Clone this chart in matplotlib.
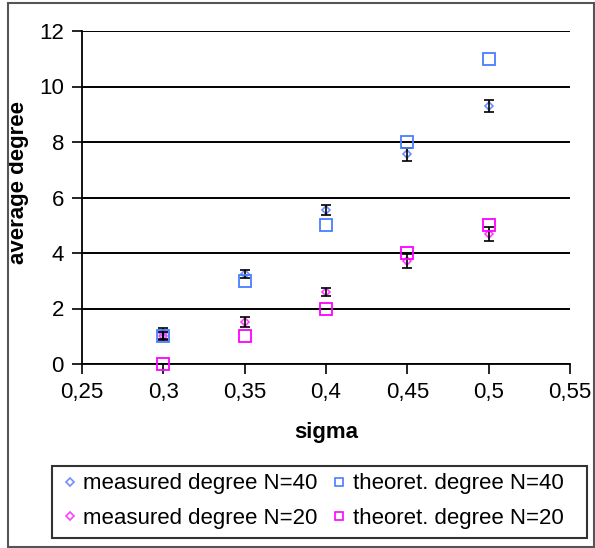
import matplotlib
matplotlib.use("Agg")
import matplotlib.pyplot as plt
from matplotlib.patches import Rectangle
from matplotlib.lines import Line2D
from matplotlib.ticker import FuncFormatter

plt.rcParams['font.family'] = ['Liberation Sans', 'DejaVu Sans']

# data
sigma = [0.3, 0.35, 0.4, 0.45, 0.5]
meas40 = [1.1, 3.25, 5.55, 7.55, 9.3]
err40 = [0.2, 0.15, 0.18, 0.22, 0.22]
theo40 = [1, 3, 5, 8, 11]
meas20 = [1.0, 1.5, 2.6, 3.7, 4.7]
err20 = [0.15, 0.18, 0.15, 0.25, 0.25]
theo20 = [0, 1, 2, 4, 5]

BLUE = "#4a7dff"
BLUE_L = "#6f8fff"
MAG = "#ff00ff"
MAG_L = "#ff40ff"
FS = 16

W, H = 595, 548
fig = plt.figure(figsize=(W/100, H/100), dpi=100)
ax = fig.add_axes([82/W, 1-364/H, (570-82)/W, (364-31)/H])

# error bars first, then markers
ax.errorbar(sigma, meas40, yerr=err40, fmt='none', ecolor='black', elinewidth=1.2,
            capsize=3.5, capthick=1.2, zorder=4)
ax.errorbar(sigma, meas20, yerr=err20, fmt='none', ecolor='black', elinewidth=1.2,
            capsize=3.5, capthick=1.2, zorder=4)
ax.plot(sigma, meas40, ls='', marker='D', ms=4.5, mfc='none', mec=BLUE_L, mew=1.2, zorder=3)
ax.plot(sigma, meas20, ls='', marker='D', ms=4.5, mfc='none', mec=MAG_L, mew=1.2, zorder=3)
ax.plot(sigma, theo40, ls='', marker='s', ms=8.5, mfc='none', mec=BLUE, mew=1.3, zorder=5)
ax.plot(sigma, theo20, ls='', marker='s', ms=8.5, mfc='none', mec=MAG, mew=1.3, zorder=5)

ax.set_xlim(0.25, 0.55)
ax.set_ylim(0, 12)
ax.set_xticks([0.25, 0.3, 0.35, 0.4, 0.45, 0.5, 0.55])
ax.set_yticks(range(0, 13, 2))
ax.xaxis.set_major_formatter(FuncFormatter(lambda v, p: f"{v:g}".replace('.', ',')))
ax.grid(axis='y', color='black', lw=1.4)
ax.set_axisbelow(True)
for s in ('top', 'right'):
    ax.spines[s].set_visible(False)
for s in ('left', 'bottom'):
    ax.spines[s].set_linewidth(1.3)
ax.tick_params(direction='out', length=7, width=1.2, labelsize=FS)
ax.tick_params(axis='y', pad=6)
ax.tick_params(axis='x', pad=6)
for ln in ax.lines:
    ln.set_clip_on(False)

ax.set_xlabel("sigma", fontsize=FS, fontweight='bold', labelpad=14)
ax.set_ylabel("average degree", fontsize=FS, fontweight='bold')
ax.yaxis.set_label_coords((29-82)/488, (364-183)/333)

# legend uses smaller markers, as in the original
handles = [
    Line2D([], [], ls='', marker='D', ms=4, mfc='none', mec=BLUE_L, mew=1.2, label='measured degree N=40'),
    Line2D([], [], ls='', marker='D', ms=4, mfc='none', mec=MAG_L, mew=1.2, label='measured degree N=20'),
    Line2D([], [], ls='', marker='s', ms=6, mfc='none', mec=BLUE, mew=1.2, label='theoret. degree N=40'),
    Line2D([], [], ls='', marker='s', ms=6, mfc='none', mec=MAG, mew=1.2, label='theoret. degree N=20'),
]
leg = fig.legend(handles=handles, ncol=2, fontsize=FS, frameon=False,
                 loc='lower left', bbox_to_anchor=(54/W, 10/H),
                 borderaxespad=0, handlelength=0.6, handletextpad=0.3,
                 columnspacing=0.7, labelspacing=0.62, borderpad=0.4)
# legend box drawn separately (it is wider than its contents)
fig.patches.append(Rectangle((52/W, 1-538/H), (587-52)/W, (538-466)/H,
                             transform=fig.transFigure, fill=False,
                             edgecolor='#333333', lw=1.5))

fig.patches.append(Rectangle((8/W, 1/H), (594-8)/W, (545-1)/H, transform=fig.transFigure,
                             fill=False, edgecolor='#555555', lw=1.5))

fig.savefig("out.png", dpi=100)
